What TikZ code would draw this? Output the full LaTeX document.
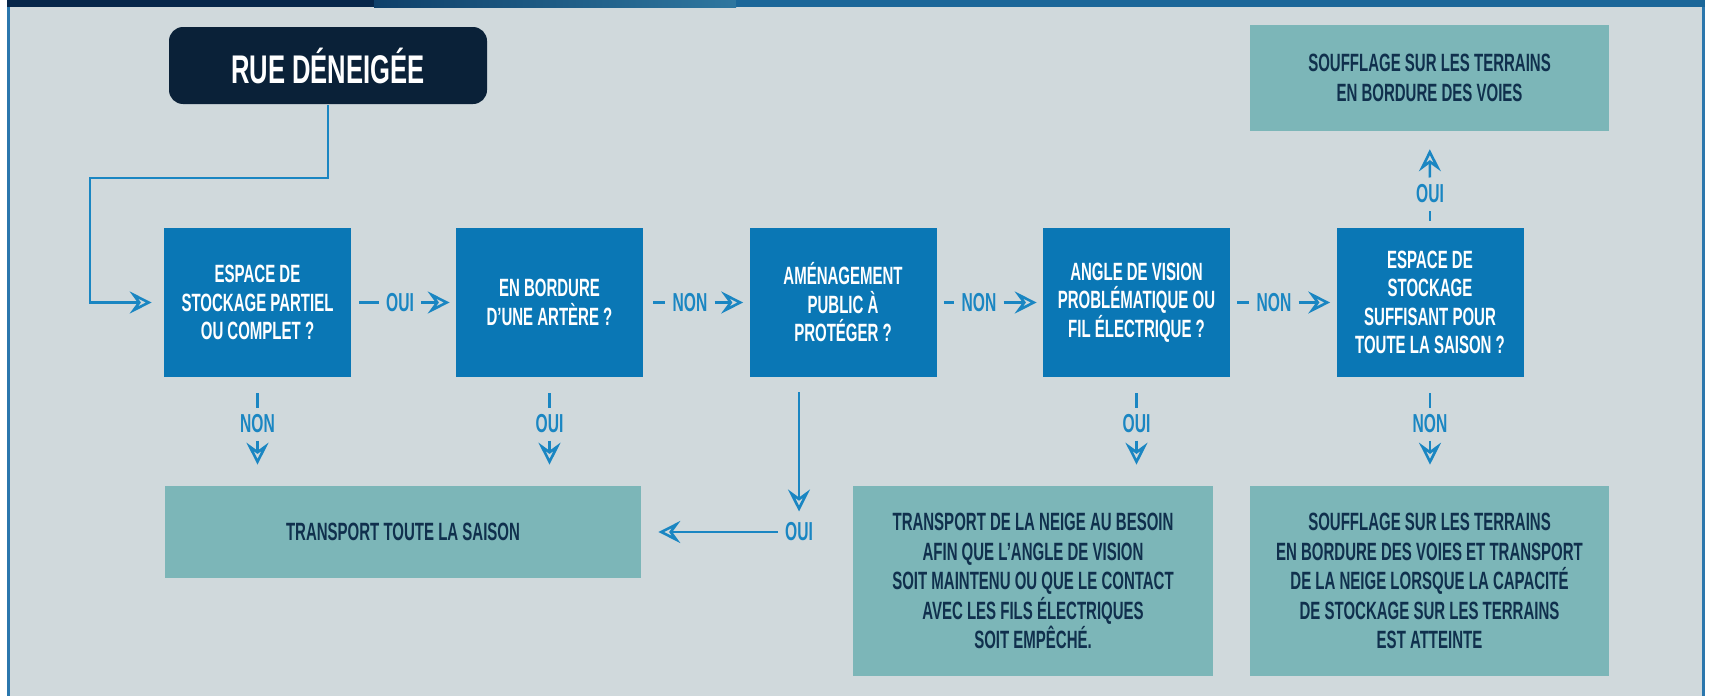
\documentclass[tikz,border=0pt]{standalone}
\usepackage{fontspec}
\usepackage{tikz}
\usetikzlibrary{arrows.meta,positioning}
\newfontfamily\condfont[FakeStretch=0.6]{Liberation Sans}
\newfontfamily\titlefont[FakeStretch=0.64]{Liberation Sans}
\definecolor{bgcol}{HTML}{D0D9DC}
\definecolor{framecol}{HTML}{2B77AD}
\definecolor{barnavy}{HTML}{06264A}
\definecolor{barblue}{HTML}{1B6799}
\definecolor{startnavy}{HTML}{0A2138}
\definecolor{qblue}{HTML}{0A77B5}
\definecolor{boxteal}{HTML}{7CB6B8}
\definecolor{textnavy}{HTML}{10304D}
\definecolor{linkblue}{HTML}{1A86C2}

\begin{document}
\begin{tikzpicture}[x=1pt, y=-1pt, line width=2.6pt,
   >={Stealth[open,length=22pt,width=22pt,inset=8pt]},
   question/.style={fill=qblue, text=white, minimum width=187pt, minimum height=149pt},
   result/.style={fill=boxteal, text=textnavy,
     font=\condfont\bfseries\fontsize{25}{29.5}\selectfont},
   answer/.style={text=linkblue, inner xsep=6pt, inner ysep=6pt,
     font=\condfont\bfseries\fontsize{26}{28}\selectfont}]
   \useasboundingbox (0,0) rectangle (1710,696);
   % frame
   \fill[white] (0,0) rectangle (1710,696);
   \fill[bgcol] (7,7) rectangle (1705,696);
   \fill[framecol] (7,0) rectangle (10,696);
   \fill[framecol] (1702,0) rectangle (1705,696);
   \fill[barnavy] (7,0) rectangle (374,7);
   \shade[left color=barnavy!60!barblue, right color=barblue!80!boxteal] (374,0) rectangle (736,7);
   \fill[barblue] (736,0) rectangle (1705,7);

   \begin{scope}[every node/.style={font=\condfont\bfseries\fontsize{25}{28.5}\selectfont,
                                    align=center, inner sep=0pt}]
    \node[fill=startnavy, text=white, rounded corners=14pt, minimum width=318pt,
          minimum height=77pt, font=\titlefont\bfseries\fontsize{40}{42}\selectfont]
          (start) at (328,65.5) {RUE DÉNEIGÉE};
    \node[question] (q1) at (257.5,302.5) {ESPACE DE\\STOCKAGE PARTIEL\\OU COMPLET ?};
    \node[question] (q2) at (549.5,302.5) {EN BORDURE\\D’UNE ARTÈRE ?};
    \node[question] (q3) at (843,302.5) {AMÉNAGEMENT\\PUBLIC À\\PROTÉGER ?};
    \node[question] (q4) at (1136.5,302.5) {ANGLE DE VISION\\PROBLÉMATIQUE OU\\FIL ÉLECTRIQUE ?};
    \node[question] (q5) at (1430,302.5) {ESPACE DE\\STOCKAGE\\SUFFISANT POUR\\TOUTE LA SAISON ?};
    \node[result, minimum width=359pt, minimum height=106pt] (r0) at (1429.5,78)
          {SOUFFLAGE SUR LES TERRAINS\\EN BORDURE DES VOIES};
    \node[result, minimum width=476pt, minimum height=92pt] (r1) at (403,532)
          {TRANSPORT TOUTE LA SAISON};
    \node[result, minimum width=360pt, minimum height=190pt] (r2) at (1033,581)
          {TRANSPORT DE LA NEIGE AU BESOIN\\AFIN QUE L’ANGLE DE VISION\\SOIT MAINTENU OU QUE LE CONTACT\\AVEC LES FILS ÉLECTRIQUES\\SOIT EMPÊCHÉ.};
    \node[result, minimum width=359pt, minimum height=190pt] (r3) at (1429.5,581)
          {SOUFFLAGE SUR LES TERRAINS\\EN BORDURE DES VOIES ET TRANSPORT\\DE LA NEIGE LORSQUE LA CAPACITÉ\\DE STOCKAGE SUR LES TERRAINS\\EST ATTEINTE};
    \node[answer] (a12) at (400,302.5) {OUI};
    \node[answer] (a23) at (690,302.5) {NON};
    \node[answer] (a34) at (979,302.5) {NON};
    \node[answer] (a45) at (1274,302.5) {NON};
    \node[answer] (a1) at (257.5,424) {NON};
    \node[answer] (a2) at (549.5,424) {OUI};
    \node[answer] (a4) at (1136.5,424) {OUI};
    \node[answer] (a5) at (1430,424) {NON};
    \node[answer] (a5up) at (1430,194) {OUI};
    \node[answer] (a3) at (799,532) {OUI};
    \coordinate (bend) at (90,178);
   \end{scope}

   \begin{scope}[every edge/.style={draw=linkblue, line width=2.6pt}]
    \draw[linkblue, ->, shorten >=11pt] (start) |- (bend) |- (q1);
    \draw (q1) edge[shorten <=7pt] (a12)  (a12) edge[->, shorten >=5pt] (q2);
    \draw (q2) edge[shorten <=9pt] (a23)  (a23) edge[->, shorten >=5pt] (q3);
    \draw (q3) edge[shorten <=6pt] (a34)  (a34) edge[->, shorten >=5pt] (q4);
    \draw (q4) edge[shorten <=6pt] (a45)  (a45) edge[->, shorten >=5pt] (q5);
    \draw (q1) edge[shorten <=15pt] (a1)  (a1) edge[->, shorten >=20pt] (a1 |- r1.north);
    \draw (q2) edge[shorten <=15pt] (a2)  (a2) edge[->, shorten >=20pt] (a2 |- r1.north);
    \draw (q4) edge[shorten <=15pt] (a4)  (a4) edge[->, shorten >=20pt] (a4 |- r2.north);
    \draw (q5) edge[shorten <=15pt] (a5)  (a5) edge[->, shorten >=20pt] (a5 |- r3.north);
    \draw (q5) edge[shorten <=6pt] (a5up)  (a5up) edge[->, shorten >=17pt] (r0);
    \draw (a3 |- q3.south) edge[->, shorten <=14pt, shorten >=4pt] (a3)
          (a3) edge[->, shorten >=16pt] (r1);
   \end{scope}
\end{tikzpicture}
\end{document}
